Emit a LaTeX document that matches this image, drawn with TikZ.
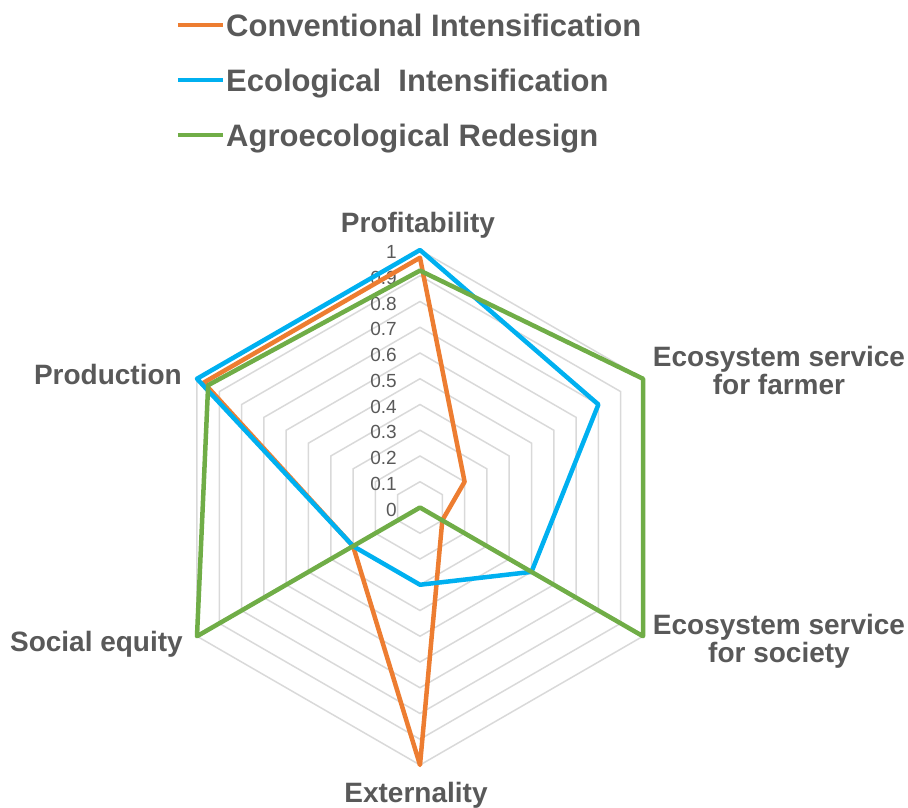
\documentclass[tikz,border=0pt]{standalone}
\usepackage{fontspec}
\setmainfont{Liberation Sans}
\usetikzlibrary{positioning}
\definecolor{convorange}{HTML}{ED7D31}
\definecolor{ecoblue}{HTML}{00B0F0}
\definecolor{agrogreen}{HTML}{70AD47}
\definecolor{gridgray}{HTML}{D9D9D9}
\definecolor{textgray}{HTML}{595959}
\newcommand{\chartR}{257.5}

\begin{document}
\begin{tikzpicture}[x=1pt, y=1pt,
	axislabel/.style={font=\fontsize{28}{34}\selectfont\bfseries, text=textgray, inner sep=0pt},
	legendlabel/.style={font=\fontsize{31}{37}\selectfont\bfseries, text=textgray, inner sep=0pt, anchor=base west},
	ticklabel/.style={font=\fontsize{19}{23}\selectfont, text=textgray, inner sep=0pt, anchor=east},
	series/.style={line width=4.5pt, line join=round}]
	\useasboundingbox (-420,-300.5) rectangle (488,507.5);
	% grid
	\foreach \k in {1,...,10}
		\draw [gridgray, line width=1.5pt] (90:\k*\chartR/10)
			\foreach \a in {30,-30,-90,-150,150} { -- (\a:\k*\chartR/10) } -- cycle;
	\foreach \k/\v in {0/0,1/0.1,2/0.2,3/0.3,4/0.4,5/0.5,6/0.6,7/0.7,8/0.8,9/0.9,10/1}
		\node [ticklabel] (tick\k) at (-23,\k*\chartR/10-2) {\v};
	% series
	\draw [series, convorange] (90:0.97*\chartR) -- (30:0.2*\chartR) -- (-30:0.1*\chartR)
		-- (-90:\chartR) -- (-150:0.3*\chartR) -- (150:0.97*\chartR) -- cycle;
	\draw [series, ecoblue] (90:\chartR) -- (30:0.8*\chartR) -- (-30:0.5*\chartR)
		-- (-90:0.3*\chartR) -- (-150:0.3*\chartR) -- (150:\chartR) -- cycle;
	\draw [series, agrogreen] (90:0.92*\chartR) -- (30:\chartR) -- (-30:\chartR)
		-- (0,0) -- (-150:\chartR) -- (150:0.95*\chartR) -- cycle;
	% axis labels
	\node [axislabel, anchor=base] (prof) at (-2,274.5) {Profitability};
	\node [axislabel, anchor=base] (esfa) at (359,140.5) {Ecosystem service};
	\node [axislabel, anchor=base] (esfb) at (359,112.5) {for farmer};
	\node [axislabel, anchor=base] (essa) at (359,-127.5) {Ecosystem service};
	\node [axislabel, anchor=base] (essb) at (359,-155.5) {for society};
	\node [axislabel, anchor=base] (ext) at (-4,-294.5) {Externality};
	\node [axislabel, anchor=base east] (soc) at (-237,-144.5) {Social equity};
	\node [axislabel, anchor=base east] (prod) at (-238,122.5) {Production};
	% legend
	\foreach \c/\y/\t/\n in {convorange/470.5/Conventional Intensification/legconv,
			ecoblue/415.5/Ecological\ \ Intensification/legeco,
			agrogreen/360.5/Agroecological Redesign/legagro} {
		\draw [\c, line width=4pt] (-242,\y+12) -- (-197,\y+12);
		\node [legendlabel] (\n) at (-194,\y) {\t};
	}
\end{tikzpicture}
\end{document}
